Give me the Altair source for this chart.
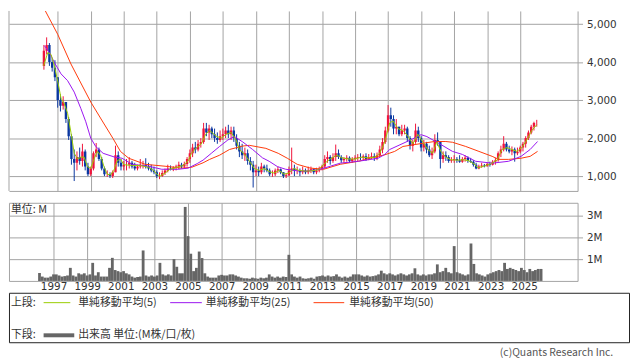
import altair as alt
import numpy as np
import pandas as pd

# ---------------- data (bi-monthly candles, Feb-1996 .. Dec-2025) ----------------
period_start = "1996-02-01"
first_open = 3900
closes = [
    4300, 4450, 4000, 3850, 3600, 3000,   # 1996
    2850, 2950, 2500, 2050, 1450, 1350,   # 1997
    1500, 1400, 1650, 1250, 1050, 1200,   # 1998
    1600, 1700, 1450, 1200, 1050, 1050,   # 1999
    1000, 1100, 1550, 1350, 1250, 1300,   # 2000
    1300, 1350, 1250, 1200, 1250, 1300,   # 2001
    1300, 1250, 1200, 1150, 1100, 1000,   # 2002
    1000, 1080, 1150, 1200, 1180, 1220,   # 2003
    1250, 1300, 1250, 1320, 1450, 1600,   # 2004
    1750, 1700, 1850, 1900, 2250, 2150,   # 2005
    2250, 2100, 2000, 1950, 2050, 2100,   # 2006
    2200, 2100, 2200, 2000, 1800, 1650,   # 2007
    1550, 1600, 1400, 1300, 1100, 1150,   # 2008
    1100, 1250, 1200, 1150, 1050, 1050,   # 2009
    1150, 1180, 1100, 1000, 1020, 1150,   # 2010
    1200, 1150, 1150, 1100, 1150, 1100,   # 2011
    1150, 1180, 1100, 1150, 1200, 1250,   # 2012
    1450, 1500, 1400, 1500, 1600, 1500,   # 2013
    1420, 1450, 1480, 1400, 1450, 1480,   # 2014
    1500, 1480, 1520, 1450, 1500, 1520,   # 2015
    1480, 1550, 1700, 1900, 2200, 2600,   # 2016
    2500, 2250, 2300, 2100, 2200, 2250,   # 2017
    2000, 1800, 1900, 2200, 2000, 1750,   # 2018
    1850, 1700, 1550, 1650, 1950, 1900,   # 2019
    1450, 1550, 1500, 1400, 1420, 1450,   # 2020
    1420, 1380, 1450, 1480, 1400, 1380,   # 2021
    1300, 1200, 1250, 1280, 1260, 1320,   # 2022
    1300, 1380, 1420, 1600, 1700, 1850,   # 2023
    1700, 1650, 1700, 1600, 1650, 1750,   # 2024
    1850, 2000, 2150, 2300, 2400, 2400,   # 2025
]
highs = [
    4450, 4650, 4500, 4100, 4050, 3600,
    3150, 3100, 2950, 2550, 2100, 1700,
    1650, 1750, 1850, 1700, 1350, 1250,
    1650, 1870, 1750, 1500, 1250, 1150,
    1100, 1150, 1800, 1650, 1450, 1400,
    1450, 1500, 1400, 1350, 1300, 1450,
    1400, 1470, 1350, 1300, 1250, 1150,
    1100, 1150, 1200, 1300, 1280, 1260,
    1300, 1380, 1350, 1380, 1500, 1700,
    1850, 1900, 1950, 2000, 2400, 2400,
    2350, 2300, 2250, 2150, 2200, 2250,
    2300, 2350, 2300, 2300, 2100, 1900,
    1850, 1750, 1700, 1500, 1400, 1300,
    1250, 1350, 1300, 1300, 1200, 1150,
    1200, 1250, 1200, 1100, 1080, 1250,
    1750, 1300, 1250, 1200, 1250, 1200,
    1250, 1250, 1200, 1220, 1250, 1300,
    1550, 1650, 1550, 1600, 1830, 1700,
    1550, 1500, 1550, 1520, 1500, 1550,
    1580, 1600, 1570, 1600, 1580, 1620,
    1600, 1620, 1800, 2000, 2300, 2870,
    2800, 2600, 2500, 2300, 2350, 2350,
    2300, 2050, 1950, 2380, 2300, 2050,
    1950, 1900, 1800, 1750, 2100, 2150,
    1900, 1650, 1650, 1550, 1500, 1550,
    1500, 1550, 1500, 1550, 1520, 1480,
    1420, 1350, 1300, 1350, 1320, 1350,
    1380, 1420, 1480, 1650, 1800, 2050,
    1900, 1800, 1780, 1750, 1750, 1800,
    1900, 2050, 2200, 2350, 2430, 2480,
]
lows = [
    3800, 4200, 3900, 3750, 3500, 2800,
    2700, 2750, 2400, 1950, 1300, 870,
    1150, 1300, 1250, 1150, 1000, 1000,
    1150, 1500, 1400, 1150, 1000, 980,
    950, 950, 1100, 1250, 1150, 1150,
    1150, 1200, 1200, 1150, 1150, 1200,
    1200, 1200, 1150, 1100, 1050, 950,
    920, 980, 1030, 1100, 1150, 1130,
    1150, 1180, 1200, 1200, 1250, 1350,
    1500, 1600, 1650, 1750, 1850, 2050,
    1950, 2000, 1900, 1850, 1900, 1950,
    2000, 2000, 1950, 1900, 1700, 1500,
    1450, 1400, 1300, 1150, 700, 1000,
    1000, 1050, 1100, 1100, 1000, 980,
    1000, 1080, 1050, 950, 950, 1000,
    1050, 1000, 1050, 1000, 1050, 1050,
    1050, 1080, 1050, 1050, 1100, 1150,
    1200, 1350, 1300, 1350, 1400, 1450,
    1350, 1350, 1380, 1350, 1350, 1400,
    1400, 1420, 1400, 1400, 1420, 1450,
    1400, 1420, 1500, 1600, 1850, 2150,
    2300, 2100, 2100, 2050, 2050, 2100,
    1900, 1700, 1650, 1850, 1900, 1650,
    1650, 1600, 1500, 1450, 1600, 1800,
    1200, 1350, 1400, 1350, 1350, 1350,
    1350, 1350, 1350, 1380, 1350, 1350,
    1250, 1180, 1180, 1220, 1230, 1250,
    1250, 1280, 1300, 1380, 1500, 1650,
    1650, 1600, 1550, 1380, 1550, 1600,
    1650, 1750, 1950, 2100, 2200, 2300,
]
volumes_m = [
    0.36, 0.20, 0.15, 0.15, 0.20, 0.30,
    0.30, 0.25, 0.20, 0.22, 0.25, 0.60,
    0.25, 0.20, 0.35, 0.30, 0.35, 0.25,
    0.30, 0.83, 0.25, 0.40, 0.20, 0.20,
    0.20, 0.60, 1.06, 0.50, 0.45, 0.40,
    0.45, 0.35, 0.30, 0.20, 0.15, 0.18,
    0.20, 1.40, 0.25, 0.20, 0.25, 0.20,
    0.25, 0.83, 0.30, 0.25, 0.30, 0.25,
    1.00, 0.65, 0.35, 0.35, 3.40, 2.06,
    1.25, 0.45, 0.60, 1.35, 1.05, 0.35,
    0.20, 0.15, 0.15, 0.15, 0.25, 0.28,
    0.25, 0.25, 0.30, 0.30, 0.25, 0.20,
    0.15, 0.12, 0.12, 0.10, 0.15, 0.12,
    0.10, 0.15, 0.12, 0.15, 0.30, 0.20,
    0.15, 0.20, 0.15, 0.20, 0.18, 1.20,
    0.30, 0.20, 0.15, 0.20, 0.12, 0.10,
    0.12, 0.15, 0.10, 0.20, 0.22, 0.25,
    0.20, 0.25, 0.20, 0.22, 0.30, 0.20,
    0.15, 0.20, 0.15, 0.20, 0.30, 0.30,
    0.30, 0.25, 0.20, 0.25, 0.20, 0.22,
    0.25, 0.30, 0.47, 0.35, 0.30, 0.35,
    0.30, 0.25, 0.30, 0.35, 0.30, 0.25,
    0.30, 0.35, 0.58, 0.30, 0.25, 0.30,
    0.25, 0.30, 0.30, 0.35, 0.76, 0.40,
    0.45, 0.60, 0.40, 0.35, 1.60, 0.40,
    0.35, 0.30, 0.25, 0.30, 1.72, 0.78,
    0.35, 0.30, 0.25, 0.20, 0.30, 0.35,
    0.40, 0.45, 0.50, 0.45, 0.83, 0.55,
    0.60, 0.55, 0.50, 0.45, 0.60, 0.50,
    0.40, 0.55, 0.45, 0.50, 0.55, 0.55,
]

# moving averages (decimal year, value)
ma5_years = [1996.15, 1996.4, 1996.6, 1996.8, 1997.0, 1997.2, 1997.4, 1997.6, 1997.8, 1998.0,
             1998.2, 1998.4, 1998.6, 1998.8, 1999.0, 1999.2, 1999.4, 1999.6, 1999.8, 2000.0,
             2000.2, 2000.4, 2000.6, 2000.8, 2001.0, 2001.5, 2002.0, 2002.5, 2002.8, 2003.0,
             2003.2, 2003.5, 2003.8, 2004.2, 2004.6, 2004.9, 2005.1, 2005.4, 2005.7, 2005.95,
             2006.2, 2006.6, 2006.9, 2007.2, 2007.5, 2007.8, 2008.0, 2008.3, 2008.6, 2008.9,
             2009.2, 2009.5, 2009.8, 2010.1, 2010.4, 2010.7, 2011.0, 2011.3, 2011.6, 2012.0,
             2012.4, 2012.8, 2013.2, 2013.5, 2013.9, 2014.2, 2014.6, 2015.0, 2015.4, 2015.8,
             2016.2, 2016.5, 2016.8, 2017.1, 2017.3, 2017.6, 2017.9, 2018.2, 2018.5, 2018.8,
             2019.1, 2019.4, 2019.7, 2019.95, 2020.2, 2020.5, 2020.8, 2021.2, 2021.6, 2021.9,
             2022.2, 2022.45, 2022.8, 2023.2, 2023.6, 2023.9, 2024.2, 2024.5, 2024.8, 2025.1,
             2025.4, 2025.7, 2026.0]
ma5_vals = [3900, 4250, 4200, 3900, 3500, 3050, 2900, 2650, 2150, 1600,
            1450, 1500, 1500, 1250, 1200, 1450, 1650, 1550, 1250, 1050,
            1030, 1150, 1400, 1450, 1300, 1280, 1280, 1230, 1150, 1050,
            1000, 1080, 1180, 1230, 1280, 1400, 1600, 1750, 1850, 2100,
            2200, 2050, 2000, 2100, 2150, 1950, 1700, 1580, 1400, 1200,
            1150, 1200, 1120, 1080, 1150, 1050, 1080, 1200, 1150, 1130,
            1140, 1170, 1350, 1450, 1550, 1480, 1450, 1450, 1500, 1480,
            1500, 1600, 1900, 2400, 2450, 2250, 2200, 2050, 1850, 2100,
            1900, 1700, 1600, 1900, 1650, 1500, 1430, 1420, 1430, 1400,
            1320, 1220, 1260, 1320, 1420, 1700, 1750, 1700, 1650, 1750,
            1950, 2200, 2350]
ma25_years = [1996.2, 1996.5, 1996.8, 1997.2, 1997.6, 1998.0, 1998.4, 1998.7, 1999.0, 1999.3,
              1999.75, 2000.45, 2000.9, 2001.5, 2002.5, 2003.3, 2004.3, 2004.9, 2005.45, 2005.8,
              2006.3, 2006.8, 2007.3, 2007.7, 2008.2, 2008.8, 2009.4, 2009.8, 2010.3, 2010.8,
              2011.5, 2012.1, 2012.9, 2013.5, 2014.1, 2015.2, 2016.4, 2016.8, 2017.1, 2017.6,
              2018.4, 2019.0, 2019.35, 2020.2, 2020.9, 2021.5, 2022.3, 2023.3, 2024.3, 2025.05,
              2025.6, 2026.05]
ma25_vals = [4430, 4250, 3990, 3690, 3510, 3210, 2780, 2430, 2000, 1780,
             1600, 1500, 1470, 1310, 1260, 1180, 1180, 1210, 1330, 1420,
             1600, 1780, 1950, 2040, 1900, 1700, 1480, 1390, 1250, 1180,
             1140, 1130, 1180, 1260, 1340, 1390, 1470, 1570, 1700, 1800,
             1960, 2090, 2040, 1830, 1650, 1570, 1390, 1340, 1390, 1520,
             1700, 1910]
ma50_years = [1996.2, 1997.0, 1997.8, 1998.4, 1999.0, 1999.7, 2000.35, 2000.8, 2001.3, 2002.3,
              2003.5, 2004.5, 2005.1, 2005.8, 2006.2, 2006.8, 2007.4, 2008.2, 2008.6, 2009.6,
              2010.35, 2010.9, 2011.5, 2012.3, 2013.1, 2014.1, 2015.2, 2016.4, 2016.8, 2017.4,
              2017.9, 2019.2, 2019.8, 2020.5, 2020.9, 2021.7, 2022.5, 2023.3, 2023.7, 2024.3,
              2025.05, 2025.6, 2026.05]
ma50_vals = [5390, 4730, 3950, 3450, 2950, 2450, 1990, 1650, 1470, 1310,
             1260, 1210, 1230, 1350, 1440, 1550, 1700, 1790, 1810, 1730,
             1600, 1470, 1310, 1210, 1180, 1310, 1390, 1520, 1560, 1650,
             1780, 1870, 1910, 1910, 1890, 1780, 1650, 1520, 1440, 1440,
             1470, 1520, 1650]

grid_years = list(range(1997, 2026, 2))
price_ticks = [1000, 2000, 3000, 4000, 5000]
volume_ticks = [1, 2, 3]
ma_labels = ["単純移動平均(5)", "単純移動平均(25)", "単純移動平均(50)"]
upper_label = "上段:"
lower_label = "下段:"
volume_label = "出来高 単位:(M株/口/枚)"
unit_label = "単位: M"
credit = "(c)Quants Research Inc."

# ---------------- styles ----------------
RED, BLUE = "#f0143c", "#0a37a0"
C5, C25, C50 = "#99cc00", "#9a14f0", "#ff3a0a"
GRID = "#a3a3a3"
TXT = "#333333"
NUMFONT = "DejaVu Sans"
JPFONT = "Noto Sans CJK JP"

starts = pd.date_range(period_start, periods=len(closes), freq="2MS")
ends = starts + pd.DateOffset(months=2)
mids = starts + (ends - starts) / 2
df = pd.DataFrame({
    "start": starts, "end": ends, "mid": mids,
    "open": [first_open] + closes[:-1], "close": closes,
    "high": highs, "low": lows, "vol": volumes_m,
})
df["dir"] = np.where(df["close"] >= df["open"], "up", "down")


def to_date(y):
    base = pd.Timestamp(int(y), 1, 1)
    return base + pd.Timedelta(days=(y - int(y)) * 365.25)


def ma_frame(ys, vs):
    return pd.DataFrame({"date": [to_date(y) for y in ys], "v": vs})


xscale = alt.Scale(domain=[alt.DateTime(year=1994, month=5, date=9),
                           alt.DateTime(year=2028, month=3, date=5)])
grid_vals = [alt.DateTime(year=y, month=1, date=1) for y in grid_years]

PW, PH, VH = 575, 182, 79
pscale = alt.Scale(domain=[610, 5345], nice=False, zero=False)

x_top = alt.X("mid:T", scale=xscale, title=None,
              axis=alt.Axis(values=grid_vals, labels=False, ticks=False, grid=True,
                            domain=True, domainColor=GRID, gridColor=GRID))
y_price_axis = alt.Axis(orient="right", values=price_ticks, format=",.0f", tickSize=5,
                        labelPadding=4, grid=True, gridColor=GRID, domainColor=GRID,
                        tickColor=GRID, labelColor=TXT, labelFont=NUMFONT,
                        labelFontSize=10.5, title=None)
dir_color = alt.Color("dir:N", scale=alt.Scale(domain=["up", "down"], range=[RED, BLUE]),
                      legend=None)

base = alt.Chart(df)
wick = base.mark_rule(strokeWidth=1, clip=True).encode(
    x=x_top, y=alt.Y("low:Q", scale=pscale, axis=y_price_axis), y2="high:Q", color=dir_color)
body = base.mark_bar(size=2.4, clip=True).encode(
    x="mid:T", y=alt.Y("open:Q", scale=pscale), y2="close:Q", color=dir_color)


def ma_line(ys, vs, col):
    return alt.Chart(ma_frame(ys, vs)).mark_line(color=col, strokeWidth=1, clip=True).encode(
        x=alt.X("date:T", scale=xscale), y=alt.Y("v:Q", scale=pscale))


left_border = alt.Chart(pd.DataFrame({"k": [0]})).mark_rule(color=GRID).encode(
    x=alt.value(0), y=alt.value(0), y2=alt.value(PH))

price = alt.layer(
    wick, body,
    ma_line(ma50_years, ma50_vals, C50),
    ma_line(ma25_years, ma25_vals, C25),
    ma_line(ma5_years, ma5_vals, C5),
    left_border,
).properties(width=PW, height=PH, view=alt.ViewBackground(strokeOpacity=0))

vol_bars = alt.Chart(df).mark_rect(color="#666666").encode(
    x=alt.X("start:T", scale=xscale, title=None,
            axis=alt.Axis(values=grid_vals, format="%Y", ticks=False, domain=False,
                          grid=True, gridColor=GRID, labelPadding=1, labelColor=TXT,
                          labelFont=NUMFONT, labelFontSize=10.5, labelFlush=False)),
    x2="end:T",
    y=alt.Y("vol:Q", scale=alt.Scale(domain=[0, 3.59], nice=False),
            axis=alt.Axis(orient="right", values=volume_ticks, labelExpr="datum.value + 'M'",
                          tickSize=5, labelPadding=4, grid=True, gridColor=GRID,
                          domain=False, tickColor=GRID, labelColor=TXT,
                          labelFont=NUMFONT, labelFontSize=10.5, title=None)),
    y2=alt.datum(0),
)
unit_text = alt.Chart(pd.DataFrame({"t": [unit_label]})).mark_text(
    align="left", baseline="middle", font=JPFONT, fontSize=11, color=TXT).encode(
    x=alt.value(2), y=alt.value(7), text="t:N")
volume = alt.layer(vol_bars, unit_text).properties(width=PW, height=VH)

# ---------------- legend box ----------------
LW, LH = 627, 50


def txt(s, x, y, align="left", font=JPFONT, size=11, color=TXT):
    return alt.Chart(pd.DataFrame({"t": [s]})).mark_text(
        align=align, baseline="middle", font=font, fontSize=size, color=color).encode(
        x=alt.value(x), y=alt.value(y), text="t:N")


def swatch(x1, x2, y, col, w):
    return alt.Chart(pd.DataFrame({"k": [0]})).mark_rule(color=col, strokeWidth=w).encode(
        x=alt.value(x1), x2=alt.value(x2), y=alt.value(y))


R1, R2 = 10, 43
legend = alt.layer(
    txt(upper_label, 2, R1),
    swatch(35, 62, R1, C5, 1), txt(ma_labels[0], 70, R1),
    swatch(163, 195, R1, C25, 1), txt(ma_labels[1], 199, R1),
    swatch(308, 339, R1, C50, 1), txt(ma_labels[2], 344, R1),
    txt(lower_label, 2, R2),
    swatch(35, 66, R2, "#666666", 4), txt(volume_label, 70, R2),
    txt(credit, 611, 61, align="right", size=10.5, color="#555555"),
).properties(width=LW, height=LH, view=alt.ViewBackground(stroke="#222222"))

chart = alt.vconcat(price, volume, legend, spacing=12, bounds="flush").properties(
    padding={"left": 0, "top": 0, "right": 0, "bottom": 0}
).configure_view(stroke=GRID).configure_concat(spacing=12)

chart.save("out.html", embed_options={"renderer": "svg", "actions": False})
